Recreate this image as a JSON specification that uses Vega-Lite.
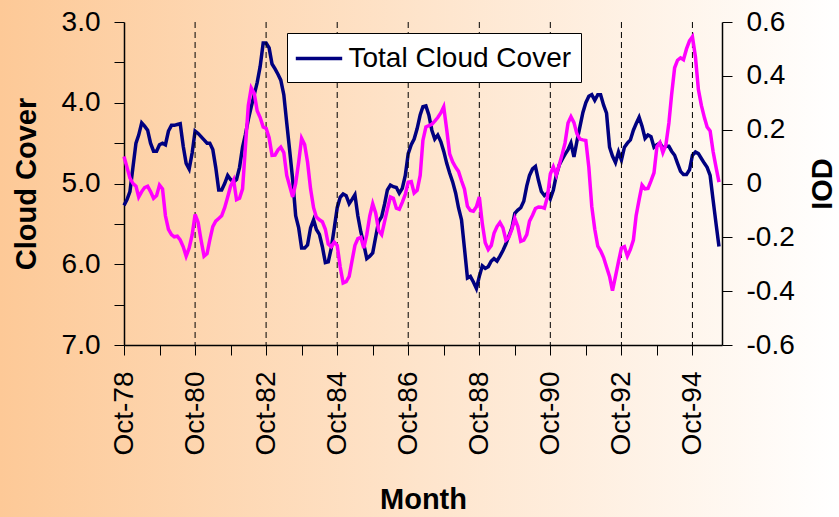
{
 "$schema": "https://vega.github.io/schema/vega-lite/v6.json",
 "width": 839, "height": 517, "padding": 0, "autosize": {"type": "none"},
 "background": "white",
 "config": {
  "view": {"fill": {"gradient": "linear", "x1": 0, "y1": 0, "x2": 1, "y2": 0, "stops": [{"offset": 0, "color": "#FDC997"}, {"offset": 1, "color": "#FFFFFF"}]}, "stroke": null},
  "font": "Liberation Sans",
  "axis": {"labelFont": "Liberation Sans", "labelFontSize": 28, "labelColor": "black", "titleFont": "Liberation Sans", "titleFontSize": 29, "titleFontWeight": "bold", "titleColor": "black", "domainColor": "black", "domainWidth": 1.5, "tickColor": "black", "tickWidth": 1, "tickSize": 10, "grid": false, "labelPadding": 14, "labelOverlap": false, "labelFlush": false}
 },
 "data": {"values": [
  {"date":"1978/10/01","cloud":5.27,"iod":0.10},{"date":"1978/11/01","cloud":5.20,"iod":0.06},{"date":"1978/12/01","cloud":5.10,"iod":0.02},
  {"date":"1979/01/01","cloud":4.80,"iod":0.00},{"date":"1979/02/01","cloud":4.50,"iod":-0.01},{"date":"1979/03/01","cloud":4.40,"iod":-0.05},{"date":"1979/04/01","cloud":4.25,"iod":-0.03},{"date":"1979/05/01","cloud":4.29,"iod":-0.015},{"date":"1979/06/01","cloud":4.34,"iod":-0.01},{"date":"1979/07/01","cloud":4.50,"iod":-0.03},{"date":"1979/08/01","cloud":4.60,"iod":-0.055},{"date":"1979/09/01","cloud":4.60,"iod":-0.045},{"date":"1979/10/01","cloud":4.52,"iod":-0.006},{"date":"1979/11/01","cloud":4.50,"iod":-0.02},{"date":"1979/12/01","cloud":4.52,"iod":-0.12},
  {"date":"1980/01/01","cloud":4.35,"iod":-0.17},{"date":"1980/02/01","cloud":4.28,"iod":-0.19},{"date":"1980/03/01","cloud":4.28,"iod":-0.198},{"date":"1980/04/01","cloud":4.27,"iod":-0.196},{"date":"1980/05/01","cloud":4.26,"iod":-0.21},{"date":"1980/06/01","cloud":4.54,"iod":-0.235},{"date":"1980/07/01","cloud":4.75,"iod":-0.27},{"date":"1980/08/01","cloud":4.82,"iod":-0.24},{"date":"1980/09/01","cloud":4.62,"iod":-0.19},{"date":"1980/10/01","cloud":4.35,"iod":-0.115},{"date":"1980/11/01","cloud":4.38,"iod":-0.145},{"date":"1980/12/01","cloud":4.42,"iod":-0.21},
  {"date":"1981/01/01","cloud":4.46,"iod":-0.27},{"date":"1981/02/01","cloud":4.50,"iod":-0.26},{"date":"1981/03/01","cloud":4.50,"iod":-0.21},{"date":"1981/04/01","cloud":4.58,"iod":-0.16},{"date":"1981/05/01","cloud":4.80,"iod":-0.14},{"date":"1981/06/01","cloud":5.08,"iod":-0.13},{"date":"1981/07/01","cloud":5.08,"iod":-0.12},{"date":"1981/08/01","cloud":5.00,"iod":-0.09},{"date":"1981/09/01","cloud":4.90,"iod":-0.05},{"date":"1981/10/01","cloud":4.95,"iod":-0.01},{"date":"1981/11/01","cloud":4.98,"iod":0.013},{"date":"1981/12/01","cloud":4.95,"iod":-0.06},
  {"date":"1982/01/01","cloud":4.80,"iod":-0.055},{"date":"1982/02/01","cloud":4.55,"iod":-0.02},{"date":"1982/03/01","cloud":4.40,"iod":0.13},{"date":"1982/04/01","cloud":4.21,"iod":0.29},{"date":"1982/05/01","cloud":4.05,"iod":0.355},{"date":"1982/06/01","cloud":3.90,"iod":0.335},{"date":"1982/07/01","cloud":3.75,"iod":0.27},{"date":"1982/08/01","cloud":3.55,"iod":0.245},{"date":"1982/09/01","cloud":3.26,"iod":0.21},{"date":"1982/10/01","cloud":3.26,"iod":0.205},{"date":"1982/11/01","cloud":3.32,"iod":0.17},{"date":"1982/12/01","cloud":3.52,"iod":0.105},
  {"date":"1983/01/01","cloud":3.58,"iod":0.106},{"date":"1983/02/01","cloud":3.65,"iod":0.125},{"date":"1983/03/01","cloud":3.72,"iod":0.135},{"date":"1983/04/01","cloud":3.90,"iod":0.115},{"date":"1983/05/01","cloud":4.25,"iod":0.03},{"date":"1983/06/01","cloud":4.60,"iod":-0.01},{"date":"1983/07/01","cloud":4.95,"iod":-0.05},{"date":"1983/08/01","cloud":5.40,"iod":0.00},{"date":"1983/09/01","cloud":5.55,"iod":0.08},{"date":"1983/10/01","cloud":5.80,"iod":0.168},{"date":"1983/11/01","cloud":5.80,"iod":0.145},{"date":"1983/12/01","cloud":5.76,"iod":0.08},
  {"date":"1984/01/01","cloud":5.55,"iod":-0.02},{"date":"1984/02/01","cloud":5.45,"iod":-0.09},{"date":"1984/03/01","cloud":5.57,"iod":-0.125},{"date":"1984/04/01","cloud":5.63,"iod":-0.135},{"date":"1984/05/01","cloud":5.78,"iod":-0.142},{"date":"1984/06/01","cloud":5.98,"iod":-0.17},{"date":"1984/07/01","cloud":5.97,"iod":-0.225},{"date":"1984/08/01","cloud":5.80,"iod":-0.235},{"date":"1984/09/01","cloud":5.55,"iod":-0.218},{"date":"1984/10/01","cloud":5.30,"iod":-0.23},{"date":"1984/11/01","cloud":5.17,"iod":-0.31},{"date":"1984/12/01","cloud":5.13,"iod":-0.37},
  {"date":"1985/01/01","cloud":5.15,"iod":-0.365},{"date":"1985/02/01","cloud":5.25,"iod":-0.345},{"date":"1985/03/01","cloud":5.20,"iod":-0.29},{"date":"1985/04/01","cloud":5.14,"iod":-0.23},{"date":"1985/05/01","cloud":5.40,"iod":-0.205},{"date":"1985/06/01","cloud":5.60,"iod":-0.20},{"date":"1985/07/01","cloud":5.75,"iod":-0.24},{"date":"1985/08/01","cloud":5.93,"iod":-0.19},{"date":"1985/09/01","cloud":5.90,"iod":-0.12},{"date":"1985/10/01","cloud":5.86,"iod":-0.075},{"date":"1985/11/01","cloud":5.66,"iod":-0.11},{"date":"1985/12/01","cloud":5.47,"iod":-0.175},
  {"date":"1986/01/01","cloud":5.41,"iod":-0.19},{"date":"1986/02/01","cloud":5.25,"iod":-0.14},{"date":"1986/03/01","cloud":5.08,"iod":-0.095},{"date":"1986/04/01","cloud":5.02,"iod":-0.05},{"date":"1986/05/01","cloud":5.04,"iod":-0.055},{"date":"1986/06/01","cloud":5.05,"iod":-0.092},{"date":"1986/07/01","cloud":5.12,"iod":-0.096},{"date":"1986/08/01","cloud":5.06,"iod":-0.07},{"date":"1986/09/01","cloud":4.90,"iod":-0.04},{"date":"1986/10/01","cloud":4.63,"iod":0.005},{"date":"1986/11/01","cloud":4.52,"iod":0.007},{"date":"1986/12/01","cloud":4.45,"iod":-0.035},
  {"date":"1987/01/01","cloud":4.32,"iod":-0.025},{"date":"1987/02/01","cloud":4.15,"iod":0.03},{"date":"1987/03/01","cloud":4.05,"iod":0.16},{"date":"1987/04/01","cloud":4.04,"iod":0.21},{"date":"1987/05/01","cloud":4.15,"iod":0.215},{"date":"1987/06/01","cloud":4.34,"iod":0.22},{"date":"1987/07/01","cloud":4.45,"iod":0.232},{"date":"1987/08/01","cloud":4.40,"iod":0.245},{"date":"1987/09/01","cloud":4.48,"iod":0.262},{"date":"1987/10/01","cloud":4.60,"iod":0.285},{"date":"1987/11/01","cloud":4.75,"iod":0.20},{"date":"1987/12/01","cloud":4.87,"iod":0.11},
  {"date":"1988/01/01","cloud":4.98,"iod":0.08},{"date":"1988/02/01","cloud":5.12,"iod":0.06},{"date":"1988/03/01","cloud":5.30,"iod":0.045},{"date":"1988/04/01","cloud":5.45,"iod":0.01},{"date":"1988/05/01","cloud":5.80,"iod":-0.02},{"date":"1988/06/01","cloud":6.17,"iod":-0.085},{"date":"1988/07/01","cloud":6.15,"iod":-0.10},{"date":"1988/08/01","cloud":6.22,"iod":-0.103},{"date":"1988/09/01","cloud":6.30,"iod":-0.086},{"date":"1988/10/01","cloud":6.15,"iod":-0.05},{"date":"1988/11/01","cloud":6.02,"iod":-0.15},{"date":"1988/12/01","cloud":6.05,"iod":-0.22},
  {"date":"1989/01/01","cloud":6.03,"iod":-0.245},{"date":"1989/02/01","cloud":5.96,"iod":-0.23},{"date":"1989/03/01","cloud":5.93,"iod":-0.185},{"date":"1989/04/01","cloud":5.96,"iod":-0.16},{"date":"1989/05/01","cloud":5.90,"iod":-0.145},{"date":"1989/06/01","cloud":5.83,"iod":-0.165},{"date":"1989/07/01","cloud":5.75,"iod":-0.21},{"date":"1989/08/01","cloud":5.65,"iod":-0.20},{"date":"1989/09/01","cloud":5.55,"iod":-0.17},{"date":"1989/10/01","cloud":5.37,"iod":-0.13},{"date":"1989/11/01","cloud":5.33,"iod":-0.16},{"date":"1989/12/01","cloud":5.30,"iod":-0.215},
  {"date":"1990/01/01","cloud":5.22,"iod":-0.21},{"date":"1990/02/01","cloud":5.03,"iod":-0.19},{"date":"1990/03/01","cloud":4.90,"iod":-0.14},{"date":"1990/04/01","cloud":4.82,"iod":-0.118},{"date":"1990/05/01","cloud":4.79,"iod":-0.093},{"date":"1990/06/01","cloud":4.96,"iod":-0.087},{"date":"1990/07/01","cloud":5.10,"iod":-0.088},{"date":"1990/08/01","cloud":5.15,"iod":-0.092},{"date":"1990/09/01","cloud":5.12,"iod":-0.05},{"date":"1990/10/01","cloud":5.19,"iod":0.035},{"date":"1990/11/01","cloud":5.08,"iod":0.062},{"date":"1990/12/01","cloud":4.90,"iod":0.032},
  {"date":"1991/01/01","cloud":4.77,"iod":0.07},{"date":"1991/02/01","cloud":4.70,"iod":0.11},{"date":"1991/03/01","cloud":4.64,"iod":0.15},{"date":"1991/04/01","cloud":4.58,"iod":0.225},{"date":"1991/05/01","cloud":4.50,"iod":0.248},{"date":"1991/06/01","cloud":4.67,"iod":0.226},{"date":"1991/07/01","cloud":4.48,"iod":0.185},{"date":"1991/08/01","cloud":4.30,"iod":0.165},{"date":"1991/09/01","cloud":4.12,"iod":0.162},{"date":"1991/10/01","cloud":4.00,"iod":0.16},{"date":"1991/11/01","cloud":3.92,"iod":0.06},{"date":"1991/12/01","cloud":3.90,"iod":-0.085},
  {"date":"1992/01/01","cloud":3.97,"iod":-0.17},{"date":"1992/02/01","cloud":3.90,"iod":-0.233},{"date":"1992/03/01","cloud":3.90,"iod":-0.25},{"date":"1992/04/01","cloud":4.03,"iod":-0.275},{"date":"1992/05/01","cloud":4.13,"iod":-0.31},{"date":"1992/06/01","cloud":4.55,"iod":-0.345},{"date":"1992/07/01","cloud":4.66,"iod":-0.398},{"date":"1992/08/01","cloud":4.74,"iod":-0.345},{"date":"1992/09/01","cloud":4.61,"iod":-0.29},{"date":"1992/10/01","cloud":4.71,"iod":-0.24},{"date":"1992/11/01","cloud":4.55,"iod":-0.235},{"date":"1992/12/01","cloud":4.50,"iod":-0.27},
  {"date":"1993/01/01","cloud":4.46,"iod":-0.245},{"date":"1993/02/01","cloud":4.34,"iod":-0.21},{"date":"1993/03/01","cloud":4.26,"iod":-0.12},{"date":"1993/04/01","cloud":4.18,"iod":-0.06},{"date":"1993/05/01","cloud":4.29,"iod":-0.006},{"date":"1993/06/01","cloud":4.44,"iod":-0.02},{"date":"1993/07/01","cloud":4.40,"iod":-0.018},{"date":"1993/08/01","cloud":4.42,"iod":0.01},{"date":"1993/09/01","cloud":4.55,"iod":0.04},{"date":"1993/10/01","cloud":4.52,"iod":0.137},{"date":"1993/11/01","cloud":4.50,"iod":0.152},{"date":"1993/12/01","cloud":4.56,"iod":0.115},
  {"date":"1994/01/01","cloud":4.54,"iod":0.143},{"date":"1994/02/01","cloud":4.54,"iod":0.225},{"date":"1994/03/01","cloud":4.60,"iod":0.33},{"date":"1994/04/01","cloud":4.65,"iod":0.43},{"date":"1994/05/01","cloud":4.75,"iod":0.458},{"date":"1994/06/01","cloud":4.85,"iod":0.467},{"date":"1994/07/01","cloud":4.89,"iod":0.46},{"date":"1994/08/01","cloud":4.89,"iod":0.50},{"date":"1994/09/01","cloud":4.83,"iod":0.53},{"date":"1994/10/01","cloud":4.65,"iod":0.545},{"date":"1994/11/01","cloud":4.61,"iod":0.47},{"date":"1994/12/01","cloud":4.63,"iod":0.35},
  {"date":"1995/01/01","cloud":4.69,"iod":0.29},{"date":"1995/02/01","cloud":4.75,"iod":0.245},{"date":"1995/03/01","cloud":4.80,"iod":0.21},{"date":"1995/04/01","cloud":4.90,"iod":0.195},{"date":"1995/05/01","cloud":5.20,"iod":0.12},{"date":"1995/06/01","cloud":5.50,"iod":0.06},{"date":"1995/07/01","cloud":5.78,"iod":0.005}
 ]},
 "encoding": {
  "x": {"field": "date", "type": "temporal",
   "scale": {"domain": [{"year": 1978, "month": 10, "date": 1}, {"year": 1995, "month": 8, "date": 1}], "range": [124, 722], "nice": false},
   "axis": {"orient": "bottom", "offset": -172, "title": "Month", "titlePadding": 30, "labelAngle": -90, "labelPadding": 16,
    "values": [{"year":1978,"month":10,"date":1},{"year":1979,"month":10,"date":1},{"year":1980,"month":10,"date":1},{"year":1981,"month":10,"date":1},{"year":1982,"month":10,"date":1},{"year":1983,"month":10,"date":1},{"year":1984,"month":10,"date":1},{"year":1985,"month":10,"date":1},{"year":1986,"month":10,"date":1},{"year":1987,"month":10,"date":1},{"year":1988,"month":10,"date":1},{"year":1989,"month":10,"date":1},{"year":1990,"month":10,"date":1},{"year":1991,"month":10,"date":1},{"year":1992,"month":10,"date":1},{"year":1993,"month":10,"date":1},{"year":1994,"month":10,"date":1}],
    "labelExpr": "year(datum.value) % 2 == 0 ? timeFormat(datum.value, '%b-%y') : ''"}}
 },
 "layer": [
  {"layer": [
   {"mark": {"type": "line", "strokeWidth": 3.5},
    "encoding": {
     "y": {"field": "cloud", "type": "quantitative", "scale": {"domain": [3, 7], "range": [22, 345], "nice": false, "zero": false},
      "axis": {"orient": "left", "offset": -124, "title": "Cloud Cover", "titlePadding": 20, "values": [3, 3.5, 4, 4.5, 5, 5.5, 6, 6.5, 7], "labelExpr": "datum.value % 1 == 0 ? format(datum.value, '.1f') : ''"}},
     "color": {"datum": "Total Cloud Cover", "scale": {"range": ["#000080"]},
      "legend": {"title": null, "orient": "none", "legendX": 287, "legendY": 33, "fillColor": "white", "strokeColor": "black", "padding": 9, "symbolType": "M-1.6,0H1.6", "symbolSize": 841, "symbolOffset": 6.5, "symbolStrokeWidth": 3.5, "labelFont": "Liberation Sans", "labelFontSize": 28, "labelColor": "black", "labelOffset": 13, "labelLimit": 400}}
    }},
   {"data": {"values": [{"date":"1980/10/01"},{"date":"1982/10/01"},{"date":"1984/10/01"},{"date":"1986/10/01"},{"date":"1988/10/01"},{"date":"1990/10/01"},{"date":"1992/10/01"},{"date":"1994/10/01"}]},
    "mark": {"type": "rule", "color": "black", "strokeWidth": 1, "strokeDash": [6, 4]},
    "encoding": {"y": {"datum": 3}, "y2": {"datum": 7}}},
   {"data": {"values": [{}]},
    "mark": {"type": "rule", "color": "#808080", "strokeWidth": 2},
    "encoding": {"x": {"datum": {"year": 1978, "month": 10, "date": 1}, "type": "temporal"}, "x2": {"datum": {"year": 1995, "month": 8, "date": 1}}, "y": {"datum": 3}}}
  ]},
  {"mark": {"type": "line", "color": "#FF00FF", "strokeWidth": 3.5},
   "encoding": {
    "y": {"field": "iod", "type": "quantitative", "scale": {"domain": [-0.6, 0.6], "range": [345, 22], "nice": false, "zero": false},
     "axis": {"orient": "right", "offset": -117, "title": "IOD", "titleAngle": 270, "titleBaseline": "top", "titlePadding": 14, "values": [-0.6, -0.4, -0.2, 0, 0.2, 0.4, 0.6], "labelExpr": "datum.value == 0 ? '0' : (datum.value < 0 ? '-' : '') + format(abs(datum.value), '.1f')"}}
   }}
 ],
 "resolve": {"scale": {"y": "independent"}, "axis": {"y": "independent"}}
}
